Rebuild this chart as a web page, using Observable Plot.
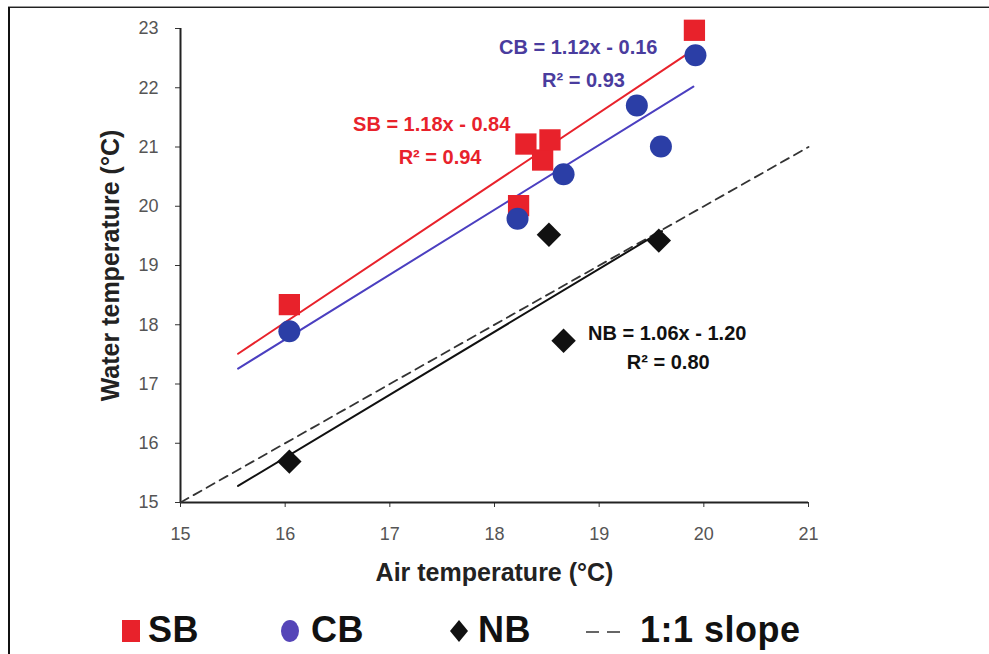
<!DOCTYPE html>
<html>
<head>
<meta charset="utf-8">
<script src="https://cdn.jsdelivr.net/npm/d3@7"></script>
<script src="https://cdn.jsdelivr.net/npm/@observablehq/plot@0.6"></script>
<style>
  html, body { margin: 0; padding: 0; background: #fff; }
  #wrap { position: relative; width: 989px; height: 654px; overflow: hidden; font-family: "Liberation Sans", Arial, sans-serif; }
  #frameTop { position: absolute; left: 8px; top: 6px; width: 981px; height: 0; border-top: 1px solid #999; border-bottom: 1.5px solid #222; }
  #frameLeft { position: absolute; left: 8px; top: 7px; width: 0; height: 647px; border-left: 2px solid #111; }
  #chart { position: absolute; left: 0; top: 0; }
  #legend { position: absolute; left: 0; top: 605px; width: 989px; height: 49px; }
  .lg { position: absolute; font-weight: bold; font-size: 36px; color: #111; top: 5px; line-height: 40px; letter-spacing: 0.5px; }
  #chart svg text.eq { letter-spacing: 0.4px; }
</style>
</head>
<body>
<div id="wrap">
  <div id="chart"></div>
  <div id="frameTop"></div>
  <div id="frameLeft"></div>
  <div id="legend"></div>
</div>
<script>
// ---- data ----
const series = ["SB", "CB", "NB"];
const airSB = [16.04, 18.23, 18.30, 18.46, 18.53, 19.91];
const waterSB = [18.34, 20.01, 21.05, 20.78, 21.12, 22.97];
const airCB = [16.04, 18.22, 18.66, 19.36, 19.59, 19.92];
const waterCB = [17.89, 19.79, 20.54, 21.70, 21.01, 22.55];
const airNB = [16.04, 18.52, 18.66, 19.57];
const waterNB = [15.69, 19.52, 17.73, 19.42];

// trend-line end points (as drawn)
const fitSBx = [15.55, 19.90], fitSBy = [17.51, 22.64];
const fitCBx = [15.55, 19.90], fitCBy = [17.26, 22.02];
const fitNBx = [15.55, 19.60], fitNBy = [15.28, 19.58];
const oneToOne = [15, 21];

const eqSB = ["SB = 1.18x - 0.84", "R² = 0.94"];
const eqCB = ["CB = 1.12x - 0.16", "R² = 0.93"];
const eqNB = ["NB = 1.06x - 1.20", "R² = 0.80"];

const xTicks = [15, 16, 17, 18, 19, 20, 21];
const yTicks = [15, 16, 17, 18, 19, 20, 21, 22, 23];
const xTitle = "Air temperature (°C)";
const yTitle = "Water temperature (°C)";
const legendLabels = ["SB", "CB", "NB", "1:1 slope"];

const colors = { SB: "#e8222b", CB: "#2b3ea6", CBline: "#4b3fc0", CBtext: "#4a3c9e", NB: "#111" };

// ---- build tables ----
const pts = (xs, ys) => xs.map((x, i) => ({ x, y: ys[i] }));
const sb = pts(airSB, waterSB), cb = pts(airCB, waterCB), nb = pts(airNB, waterNB);
const lSB = pts(fitSBx, fitSBy), lCB = pts(fitCBx, fitCBy), lNB = pts(fitNBx, fitNBy);
const l11 = pts(oneToOne, oneToOne);

const eqStyle = { fontSize: 20, fontWeight: "bold", className: "eq" };

const chart = Plot.plot({
  width: 989,
  height: 605,
  marginLeft: 180,
  marginRight: 181,
  marginTop: 28,
  marginBottom: 103,
  style: { fontFamily: "Liberation Sans, Arial, sans-serif", background: "transparent", overflow: "visible" },
  x: { domain: [15, 21] },
  y: { domain: [15, 23] },
  marks: [
    Plot.axisX({ ticks: xTicks, tickFormat: d3.format("d"), tickSize: 5, tickPadding: 20, label: null, fontSize: 18, color: "#555", stroke: "#333" }),
    Plot.axisY({ ticks: yTicks, tickFormat: d3.format("d"), tickSize: 5, tickPadding: 17, label: null, fontSize: 18, color: "#555", stroke: "#333" }),
    Plot.ruleY([15], { stroke: "#222", strokeWidth: 2 }),
    Plot.ruleX([15], { stroke: "#222", strokeWidth: 2 }),
    Plot.text([xTitle], { frameAnchor: "bottom", dy: 78, fontSize: 25, fontWeight: "bold", fill: "#222" }),
    Plot.text([yTitle], { frameAnchor: "left", textAnchor: "middle", dx: -70, rotate: -90, fontSize: 25, fontWeight: "bold", fill: "#222" }),
    Plot.line(l11, { x: "x", y: "y", stroke: "#333", strokeWidth: 1.8, strokeDasharray: "9,6" }),
    Plot.line(lNB, { x: "x", y: "y", stroke: "#111", strokeWidth: 2 }),
    Plot.line(lCB, { x: "x", y: "y", stroke: colors.CBline, strokeWidth: 2 }),
    Plot.line(lSB, { x: "x", y: "y", stroke: colors.SB, strokeWidth: 2 }),
    Plot.dot(sb, { x: "x", y: "y", symbol: "square", r: 12, fill: colors.SB, stroke: "none" }),
    Plot.dot(cb, { x: "x", y: "y", symbol: "circle", r: 11, fill: colors.CB, stroke: "none" }),
    Plot.dot(nb, { x: "x", y: "y", symbol: "diamond2", r: 11, fill: colors.NB, stroke: "none" }),
    Plot.text([eqSB[0]], { x: 17.40, y: 21.38, fill: colors.SB, ...eqStyle }),
    Plot.text([eqSB[1]], { x: 17.48, y: 20.82, fill: colors.SB, ...eqStyle }),
    Plot.text([eqCB[0]], { x: 18.80, y: 22.68, fill: colors.CBtext, ...eqStyle }),
    Plot.text([eqCB[1]], { x: 18.85, y: 22.12, fill: colors.CBtext, ...eqStyle }),
    Plot.text([eqNB[0]], { x: 19.65, y: 17.85, fill: "#111", ...eqStyle }),
    Plot.text([eqNB[1]], { x: 19.66, y: 17.36, fill: "#111", ...eqStyle })
  ]
});
document.getElementById("chart").appendChild(chart);

// ---- legend below the chart ----
const lg = document.getElementById("legend");
const swatches = [
  { left: 121, svg: `<svg width="20" height="24"><rect x="1" y="1" width="18" height="22" fill="${colors.SB}"/></svg>`, textLeft: 148 },
  { left: 280, svg: `<svg width="20" height="24"><ellipse cx="10" cy="12" rx="9" ry="11" fill="#5545b8"/></svg>`, textLeft: 311 },
  { left: 449, svg: `<svg width="20" height="24"><path d="M10 1 L19 12 L10 23 L1 12 Z" fill="#111"/></svg>`, textLeft: 478 },
  { left: 586, svg: `<svg width="44" height="24"><line x1="0" y1="13" x2="42" y2="13" stroke="#666" stroke-width="2" stroke-dasharray="13,8"/></svg>`, textLeft: 640 }
];
swatches.forEach((s, i) => {
  const sw = document.createElement("div");
  sw.style.cssText = `position:absolute;left:${s.left}px;top:14px;`;
  sw.innerHTML = s.svg;
  lg.appendChild(sw);
  const t = document.createElement("div");
  t.className = "lg";
  t.style.left = s.textLeft + "px";
  t.textContent = legendLabels[i];
  lg.appendChild(t);
});
</script>
</body>
</html>
